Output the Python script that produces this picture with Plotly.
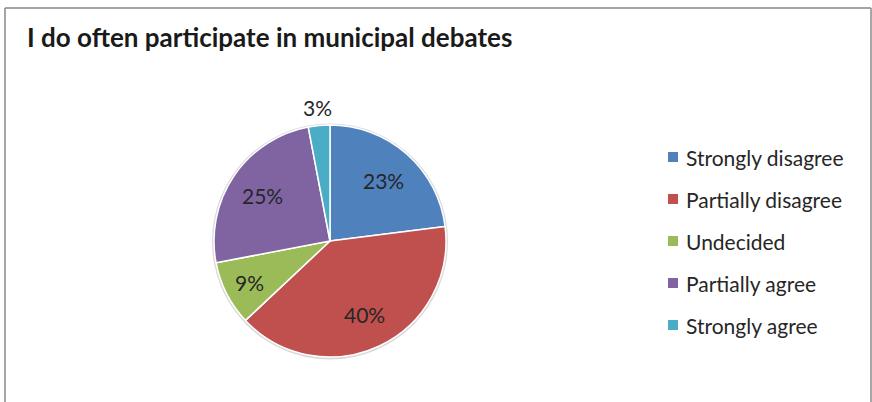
import math
import plotly.graph_objects as go

# Survey answers
categories = ["Strongly disagree", "Partially disagree", "Undecided",
              "Partially agree", "Strongly agree"]
shares = [23, 40, 9, 25, 3]
label_texts = ["23%", "40%", "9%", "25%", "3%"]
slice_colors = ["#4F81BD", "#C0504D", "#9BBB59", "#8064A2", "#4BACC6"]
# radial placement of each percentage label, as a fraction of the pie radius
label_radius = [0.70, 0.70, 0.78, 0.70, 1.16]

W, H = 872, 402
LABEL_FONT = "Lato, 'Open Sans', sans-serif"

px_x = lambda v: v / W
px_y = lambda v: 1 - v / H

# pie box in pixels
pie_l, pie_r, pie_t, pie_b = 214, 446, 125, 357
cx, cy = (pie_l + pie_r) / 2, (pie_t + pie_b) / 2
R = min(pie_r - pie_l, pie_b - pie_t) / 2

fig = go.Figure()

# soft rim behind the pie
fig.add_shape(type="circle", xref="paper", yref="paper", layer="below",
              x0=px_x(cx - R - 2), x1=px_x(cx + R + 2),
              y0=px_y(cy + R + 2.5), y1=px_y(cy - R - 1.5),
              fillcolor="#d9d9d9", line=dict(width=0))

fig.add_trace(go.Pie(
    labels=categories,
    values=shares,
    textinfo="none",
    marker=dict(colors=slice_colors, line=dict(color="white", width=1.5)),
    sort=False,
    direction="clockwise",
    rotation=0,
    showlegend=False,
    hoverinfo="label+percent",
    domain=dict(x=[px_x(pie_l), px_x(pie_r)], y=[px_y(pie_b), px_y(pie_t)]),
))

# Percentage labels at each slice's mid-angle (clockwise from 12 o'clock)
total = sum(shares)
cum = 0
for val, txt, rf in zip(shares, label_texts, label_radius):
    mid = (cum + val / 2) / total * 2 * math.pi
    cum += val
    lx = cx + rf * R * math.sin(mid)
    ly = cy - rf * R * math.cos(mid)
    fig.add_annotation(x=px_x(lx), y=px_y(ly), xref="paper", yref="paper",
                       text=txt, showarrow=False, xanchor="center", yanchor="middle",
                       font=dict(family=LABEL_FONT, size=21, color="#262626"))

# Frame around the chart area (open at the bottom)
frame = dict(type="line", xref="paper", yref="paper",
             line=dict(color="#878787", width=1.5))
fig.add_shape(**frame, x0=px_x(5), y0=px_y(8), x1=px_x(871), y1=px_y(8))
fig.add_shape(**frame, x0=px_x(5), y0=px_y(8), x1=px_x(5), y1=0)
fig.add_shape(**frame, x0=px_x(871), y0=px_y(8), x1=px_x(871), y1=0)

# Legend drawn as swatches + labels, one row per category
leg_x, leg_y0, leg_gap, sw = 668, 157, 42, 10
for i, (name, col) in enumerate(zip(categories, slice_colors)):
    yc = leg_y0 + i * leg_gap
    fig.add_shape(type="rect", xref="paper", yref="paper",
                  x0=px_x(leg_x), x1=px_x(leg_x + sw),
                  y0=px_y(yc + sw / 2), y1=px_y(yc - sw / 2),
                  fillcolor=col, line=dict(width=0))
    fig.add_annotation(x=px_x(leg_x + 16), y=px_y(yc), xref="paper", yref="paper",
                       text=name, showarrow=False, xanchor="left", yanchor="middle",
                       font=dict(family=LABEL_FONT, size=21, color="#262626"))

# Title
fig.add_annotation(x=px_x(25), y=px_y(37), xref="paper", yref="paper",
                   text="<b>I do often participate in municipal debates</b>",
                   showarrow=False, xanchor="left", yanchor="middle",
                   font=dict(family="Lato, 'Noto Sans', sans-serif", size=26, color="#1a1a1a"))

fig.update_layout(
    width=W, height=H,
    margin=dict(l=0, r=0, t=0, b=0),
    paper_bgcolor="white",
    plot_bgcolor="white",
)

fig.write_html("out.html")
